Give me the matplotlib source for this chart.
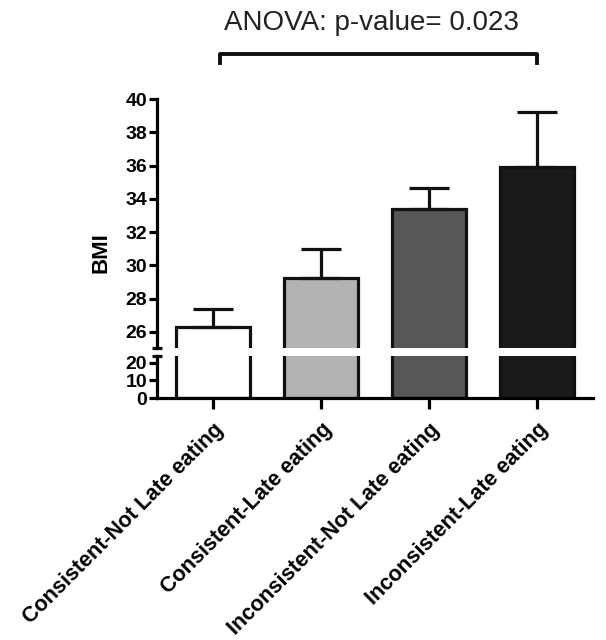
import matplotlib.pyplot as plt
import numpy as np

plt.rcParams['font.family'] = ['Liberation Sans', 'DejaVu Sans']

# dados
grupos = ['Consistent-Not Late eating', 'Consistent-Late eating',
          'Inconsistent-Not Late eating', 'Inconsistent-Late eating']
bmi_media = [26.3, 29.25, 33.4, 35.95]
bmi_erro = [1.1, 1.75, 1.25, 3.25]
cores = ['#ffffff', '#b2b2b2', '#575757', '#1a1a1a']
ticks_cima = [26, 28, 30, 32, 34, 36, 38, 40]
ticks_baixo = [0, 10, 20]
texto_anova = 'ANOVA: p-value= 0.023'

x = np.arange(len(grupos))
lw = 2.3

fig = plt.figure(figsize=(6.06, 6.4), dpi=100)
ax_cima = fig.add_axes([0.259, 0.456, 0.72, 0.389])
ax_baixo = fig.add_axes([0.259, 0.378, 0.72, 0.066])

for ax in (ax_cima, ax_baixo):
    ax.bar(x, bmi_media, width=0.68, color=cores, edgecolor='#111111', linewidth=lw)
    ax.set_xlim(-0.52, 3.52)
    for s in ['top', 'right']:
        ax.spines[s].set_visible(False)
    ax.spines['left'].set_linewidth(lw)
    ax.spines['bottom'].set_linewidth(lw)
    ax.tick_params(axis='y', width=lw, length=6, labelsize=14, pad=1)

# barras de erro (so para cima)
ax_cima.errorbar(x, bmi_media, yerr=[np.zeros(4), bmi_erro], fmt='none',
                 ecolor='#111111', elinewidth=lw, capsize=14.5, capthick=lw)

ax_cima.set_ylim(25.02, 40)
ax_cima.set_yticks(ticks_cima)
ax_cima.set_yticklabels([str(t) for t in ticks_cima], fontweight='bold', fontsize=14)
ax_cima.spines['bottom'].set_visible(False)
ax_cima.tick_params(axis='x', bottom=False, labelbottom=False)

ax_baixo.set_ylim(0, 24)
ax_baixo.set_yticks(ticks_baixo)
ax_baixo.set_yticklabels([str(t) for t in ticks_baixo], fontweight='bold', fontsize=14)
ax_baixo.set_xticks(x)
ax_baixo.set_xticklabels(grupos, rotation=45, ha='right', va='top',
                         rotation_mode='anchor', fontweight='bold', fontsize=15.5)
ax_baixo.tick_params(axis='x', width=lw, length=8, pad=7)

# marcas do corte no eixo
for ax, yy in ((ax_cima, 25.02), (ax_baixo, 24)):
    ax.plot([-0.52 - 0.05, -0.52 + 0.05], [yy, yy], color='#111111', lw=lw,
            clip_on=False, solid_capstyle='butt')

fig.text(0.166, 0.606, 'BMI', rotation=90, ha='center', va='center',
         fontsize=16, fontweight='bold')

# colchete ANOVA
ax_cima.plot([0.06, 0.06, 3.0, 3.0], [42.15, 42.7, 42.7, 42.15], color='#111111',
             lw=lw + 0.5, clip_on=False)
ax_cima.text(1.47, 44.6, texto_anova, ha='center', va='center', fontsize=20,
             color='#222222', clip_on=False)

plt.savefig('out.png', dpi=100)
